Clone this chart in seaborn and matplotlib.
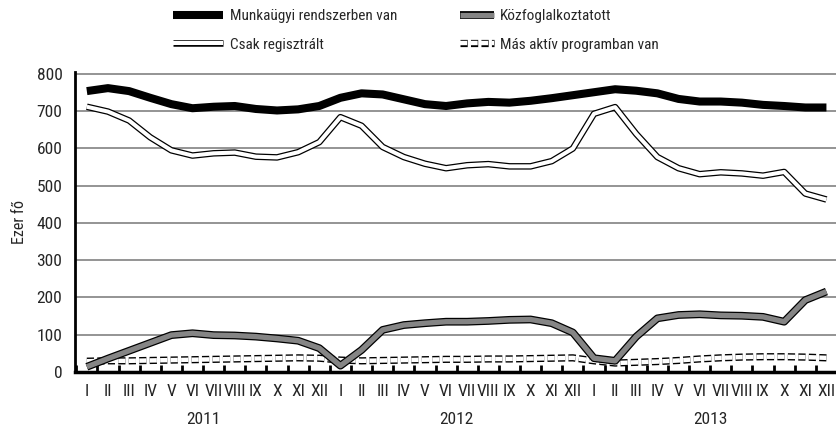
import matplotlib
matplotlib.use("Agg")
import matplotlib.pyplot as plt
import matplotlib.patheffects as pe
import matplotlib.transforms as mtransforms
from matplotlib import font_manager
import numpy as np
import pandas as pd
import seaborn as sns

# --- Adatok (ezer fő) ---
honapok = ["I", "II", "III", "IV", "V", "VI", "VII", "VIII", "IX", "X", "XI", "XII"]
evek = ["2011", "2012", "2013"]

munkaugyi = [754, 762, 754, 736, 719, 708, 712, 714, 706, 702, 705, 714,
             736, 748, 745, 732, 719, 714, 721, 725, 723, 728, 735, 743,
             751, 759, 755, 748, 733, 726, 726, 723, 717, 714, 710, 710]
csak_regisztralt = [712, 699, 675, 630, 595, 581, 587, 589, 578, 576, 590, 617,
                    684, 661, 604, 577, 559, 547, 555, 558, 552, 552, 566, 600,
                    693, 711, 639, 577, 547, 531, 536, 533, 527, 537, 479, 463]
kozfoglalkoztatott = [14, 36, 57, 78, 99, 104, 99, 98, 95, 90, 84, 64,
                      17, 59, 113, 126, 131, 135, 135, 137, 140, 141, 131, 106,
                      37, 30, 95, 144, 153, 155, 152, 151, 148, 135, 193, 216]
mas_aktiv = [29, 30, 30, 31, 32, 33, 34, 35, 36, 37, 38, 37,
             32, 30, 31, 32, 33, 34, 34, 35, 35, 36, 37, 38,
             30, 24, 26, 28, 31, 35, 38, 40, 41, 41, 40, 38]

cimkek = ["Munkaügyi rendszerben van", "Közfoglalkoztatott",
          "Csak regisztrált", "Más aktív programban van"]

honap_cimkek = honapok * len(evek)
df = pd.DataFrame({
    "idx": np.arange(len(honap_cimkek)),
    "munkaugyi": munkaugyi,
    "csak": csak_regisztralt,
    "koz": kozfoglalkoztatott,
    "mas": mas_aktiv,
})

sns.set_style("white")
# keskeny betűtípus, ha van
nevek = {f.name for f in font_manager.fontManager.ttflist}
jeloltek = ["Roboto Condensed", "Liberation Sans Narrow", "Arial Narrow", "Roboto"]
csalad = [n for n in jeloltek if n in nevek] + ["DejaVu Sans"]
plt.rcParams["font.family"] = csalad
plt.rcParams["font.size"] = 11
plt.rcParams["lines.solid_capstyle"] = "butt"

fig = plt.figure(figsize=(8.37, 4.29), dpi=100)
ax = fig.add_axes([75 / 837, 1 - 372 / 429, 1 - 75 / 837, (372 - 72.1) / 429])

# Más aktív: szaggatott dupla vonal
sns.lineplot(data=df, x="idx", y="mas", ax=ax, color="black", linewidth=5.2,
             linestyle=(0, (1, 0.45)), dash_capstyle="butt",
             path_effects=[pe.Normal(), pe.Stroke(linewidth=3.2, foreground="white")])
# Csak regisztrált: fehér, fekete szegéllyel
sns.lineplot(data=df, x="idx", y="csak", ax=ax, color="white", linewidth=2.9,
             solid_capstyle="butt",
             path_effects=[pe.Stroke(linewidth=4.7, foreground="black"), pe.Normal()])
# Közfoglalkoztatott: szürke, fekete szegéllyel
sns.lineplot(data=df, x="idx", y="koz", ax=ax, color="#858585", linewidth=3.8,
             solid_capstyle="butt",
             path_effects=[pe.Stroke(linewidth=5.6, foreground="black"), pe.Normal()])
# Munkaügyi rendszerben van: vastag fekete
sns.lineplot(data=df, x="idx", y="munkaugyi", ax=ax, color="black", linewidth=5.8,
             solid_capstyle="butt")

ax.set_xlim(-0.56, 35.2)
ax.set_ylim(0, 805)
ax.set_yticks(range(0, 801, 100))
ax.yaxis.grid(True, color="#777777", linewidth=1.1)
ax.set_axisbelow(True)
for s in ["top", "right"]:
    ax.spines[s].set_visible(False)
ax.spines["left"].set_linewidth(2)
ax.spines["bottom"].set_linewidth(2.5)
ax.spines["left"].set_color("black")
ax.spines["bottom"].set_color("black")

ax.set_xticks(df["idx"])
ax.set_xticklabels(honap_cimkek)
ax.set_xticks(np.arange(-0.5, 36, 1), minor=True)
ax.tick_params(axis="x", which="major", bottom=False, length=0, pad=9, labelsize=12.5)
ax.tick_params(axis="x", which="minor", bottom=True, direction="in", length=5, width=2,
               color="black")
ax.tick_params(axis="y", left=False, length=0, pad=9, labelsize=12.5)
ax.set_xlabel("")
ax.set_ylabel("Ezer fő", fontsize=11.5, labelpad=7)

evek_trans = mtransforms.blended_transform_factory(ax.transData, fig.transFigure)
for i, ev in enumerate(evek):
    ax.text(5.5 + 12 * i, 1 - 420 / 429, ev, transform=evek_trans,
            ha="center", va="center", fontsize=12.5)

# --- Jelmagyarázat ---
h_mas, h_csak, h_koz, h_munka = ax.lines[:4]

fig.legend([h_munka, h_csak], [cimkek[0], cimkek[2]], loc="upper left",
           bbox_to_anchor=(173 / 837, 1 - 9 / 429), frameon=False, borderpad=0,
           borderaxespad=0, handlelength=3.3, handletextpad=0.4,
           labelspacing=0.95, fontsize=11)
fig.legend([h_koz, h_mas], [cimkek[1], cimkek[3]], loc="upper left",
           bbox_to_anchor=(460 / 837, 1 - 9 / 429), frameon=False, borderpad=0,
           borderaxespad=0, handlelength=2.2, handletextpad=0.4,
           labelspacing=0.95, fontsize=11)

fig.savefig("out.png", dpi=100)
